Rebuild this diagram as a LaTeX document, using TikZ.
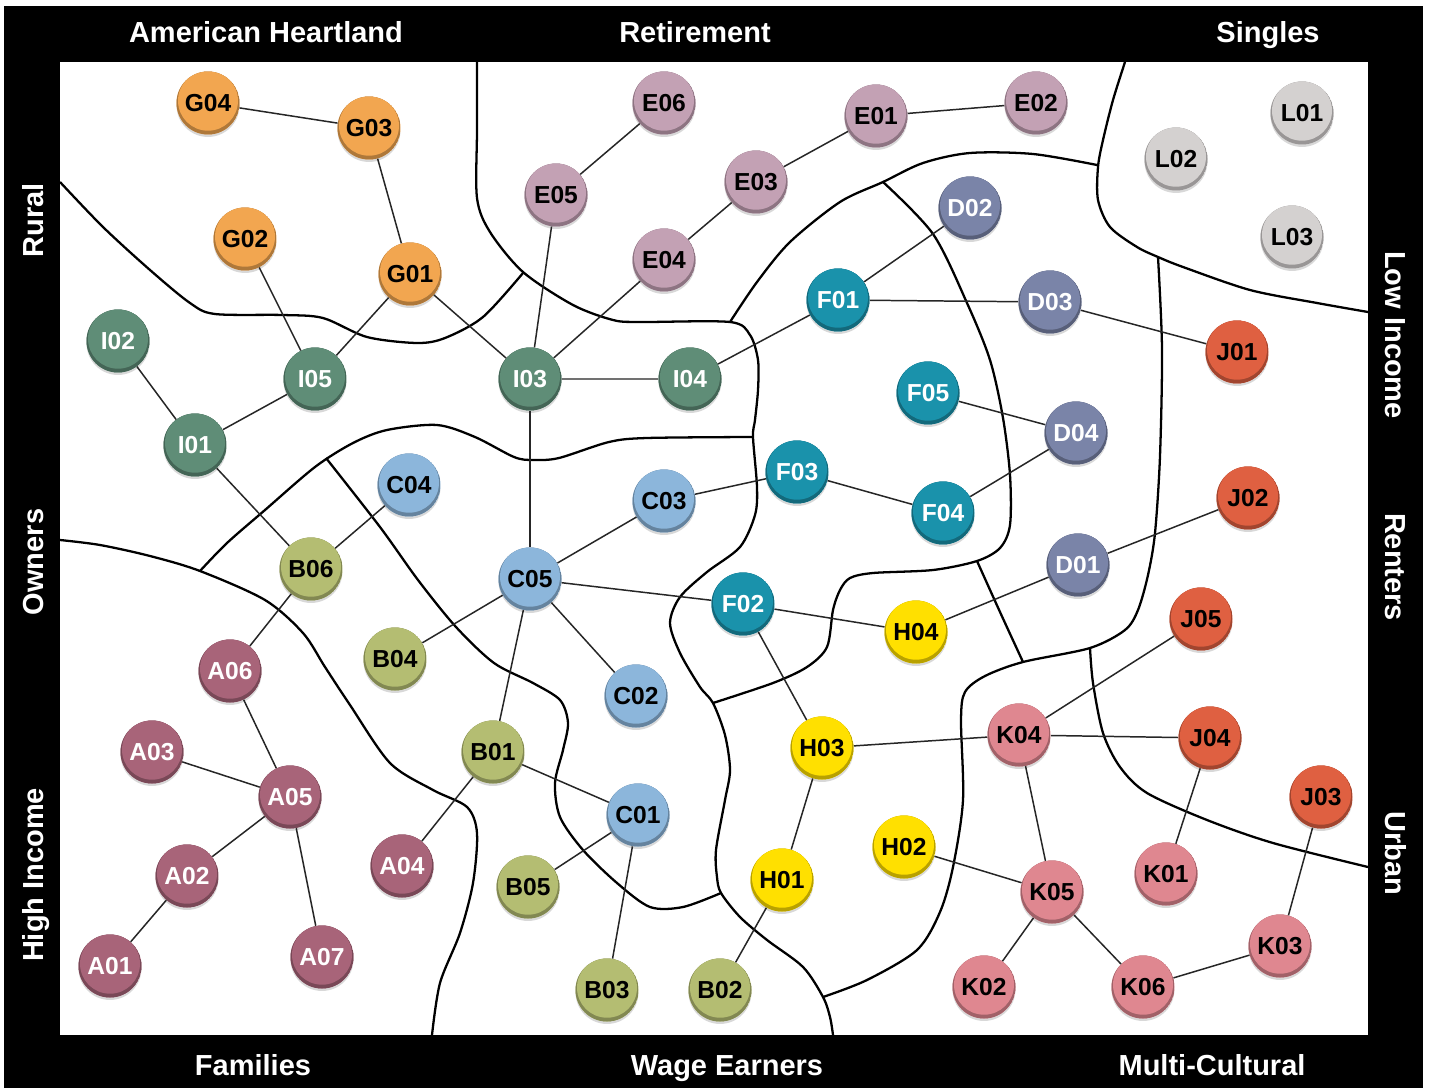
\documentclass[tikz,border=0pt]{standalone}
\usepackage{fontspec}
\setmainfont{Liberation Sans}
\usepackage{xcolor}
\usepackage{tikz}
\usetikzlibrary{
	shadows		% per l'ombra sotto i cerchi
}

% colori dei gruppi
\definecolor{segA}{HTML}{A86479}
\definecolor{segB}{HTML}{B4BD72}
\definecolor{segC}{HTML}{8CB6DB}
\definecolor{segD}{HTML}{7A84A8}
\definecolor{segE}{HTML}{C3A1B4}
\definecolor{segF}{HTML}{1A92AB}
\definecolor{segG}{HTML}{F2A650}
\definecolor{segH}{HTML}{FFE000}
\definecolor{segI}{HTML}{5F8D77}
\definecolor{segJ}{HTML}{DF6041}
\definecolor{segK}{HTML}{DF8790}
\definecolor{segL}{HTML}{D4D1D0}

\begin{document}
\begin{tikzpicture}[
	x=0.02cm, y=-0.02cm,
	seg/.style={circle, minimum size=1.26cm, inner sep=0pt, fill=#1, text=black,
		font=\fontsize{14}{14}\selectfont\bfseries,
		path picture={
			\fill[#1!72!black] (path picture bounding box.center) circle (0.63cm);
			\fill[#1] ([yshift=1.3pt]path picture bounding box.center) circle (0.6cm);
		},
		drop shadow={shadow xshift=0pt, shadow yshift=-1.4pt, opacity=0.3}},
	seg_light/.style={seg=#1, text=white},
	link/.style={line width=0.85pt, color=black!85},
	border_line/.style={line width=1.3pt, black, line join=round},
	side_label/.style={text=white, font=\fontsize{16.5}{18}\selectfont\bfseries, anchor=base}
	]
	
	% --- Cornice ---
	\fill[white] (0,0) rectangle (1430,1088);
	\fill[black] (4,6) rectangle (1423,1088);
	\fill[white] (60,62) rectangle (1368,1035);
	
	% --- Etichette ai bordi ---
	\node[side_label] (heartland) at (266,43) {American Heartland};
	\node[side_label] (retirement) at (695,43) {Retirement};
	\node[side_label] (singles) at (1268,43) {Singles};
	\node[side_label] (families) at (253,1075) {Families};
	\node[side_label] (wage) at (727,1075) {Wage Earners};
	\node[side_label] (multi) at (1212,1075) {Multi-Cultural};
	\node[side_label, rotate=90] (rural) at (43,220) {Rural};
	\node[side_label, rotate=90] (owners) at (43,562) {Owners};
	\node[side_label, rotate=90] (high) at (43,875) {High Income};
	\node[side_label, rotate=-90] (low) at (1385,335) {Low Income};
	\node[side_label, rotate=-90] (renters) at (1385,567) {Renters};
	\node[side_label, rotate=-90] (urban) at (1385,853) {Urban};
	
	% ==================================================================
	% --- Confini delle zone ---
	% ==================================================================
	\draw[border_line] plot[smooth, tension=0.5] coordinates {(60,182) (103,227) (150,270) (190,303) (215,314) (283,315) (323,318) (367,337) (417,343) (445,338) (483,317) (523,273)};
	\draw[border_line] plot[smooth, tension=0.5] coordinates {(477,62) (477,130) (477,198) (490,232) (523,272) (573,305) (613,320) (640,322) (730,322) (750,335) (758,360) (758,390) (755,420) (753,437) (757,487) (755,515) (740,547) (707,572) (680,597) (670,623) (680,653) (700,687) (713,703) (725,735) (730,770) (725,800) (716,850) (717,877) (721,893) (740,917) (767,940) (803,967) (823,997) (830,1017) (833,1035)};
	\draw[border_line] plot[smooth, tension=0.5] coordinates {(730,322) (757,282) (790,242) (840,202) (883,182) (923,163) (970,153) (1033,154) (1097,165)};
	\draw[border_line] plot[smooth, tension=0.5] coordinates {(1125,62) (1113,100) (1103,140) (1098,167) (1098,200) (1110,227) (1137,247) (1158,257) (1183,267) (1250,290) (1317,303) (1368,312)};
	\draw[border_line] plot[smooth, tension=0.5] coordinates {(1158,257) (1162,349) (1160,456) (1155,533) (1148,575) (1138,610) (1125,630) (1090,648) (1023,662) (985,676) (965,692) (961,720) (963,800) (953,867) (940,912) (917,950) (867,980) (823,997)};
	\draw[border_line] plot[smooth, tension=0.5] coordinates {(883,182) (933,234) (967,303) (990,360) (1003,418) (1010,475) (1010,525) (1000,548) (977,561) (933,570) (873,573) (850,578) (840,590) (833,610) (827,647) (807,667) (773,683) (713,703)};
	\draw[border_line] plot[smooth, tension=0.5] coordinates {(977,561) (1000,612) (1023,662)};
	\draw[border_line] plot[smooth, tension=0.5] coordinates {(1090,648) (1093,683) (1103,733) (1120,767) (1147,793) (1207,820) (1273,843) (1368,867)};
	\draw[border_line] plot[smooth, tension=0.5] coordinates {(200,571) (227,543) (265,510) (315,467) (353,443) (387,430) (437,425) (475,437) (514,457) (533,460) (559,458) (609,442) (647,438) (753,437)};
	\draw[border_line] plot[smooth, tension=0.5] coordinates {(60,540) (100,545) (150,556) (200,571) (265,600) (303,633) (325,667) (350,705) (390,763) (433,790) (467,807) (477,833) (473,883) (460,933) (440,983) (432,1035)};
	\draw[border_line] plot[smooth, tension=0.5] coordinates {(326,458) (380,527) (418,580) (456,627) (494,663) (533,683) (560,700) (568,723) (563,750) (555,783) (560,817) (583,850) (617,883) (650,907) (683,907) (721,893)};
	
	% ==================================================================
	% --- Segmenti ---
	% ==================================================================
	
	% --- G ---
	\node[seg=segG] (G01) at (410,274) {G01};
	\node[seg=segG] (G02) at (245,239) {G02};
	\node[seg=segG] (G03) at (369,128) {G03};
	\node[seg=segG] (G04) at (208,103) {G04};
	
	% --- I ---
	\node[seg_light=segI] (I01) at (195,445) {I01};
	\node[seg_light=segI] (I02) at (118,341) {I02};
	\node[seg_light=segI] (I03) at (530,379) {I03};
	\node[seg_light=segI] (I04) at (690,379) {I04};
	\node[seg_light=segI] (I05) at (315,379) {I05};
	
	% --- E ---
	\node[seg=segE] (E01) at (876,116) {E01};
	\node[seg=segE] (E02) at (1036,103) {E02};
	\node[seg=segE] (E03) at (756,182) {E03};
	\node[seg=segE] (E04) at (664,260) {E04};
	\node[seg=segE] (E05) at (556,195) {E05};
	\node[seg=segE] (E06) at (664,103) {E06};
	
	% --- L ---
	\node[seg=segL] (L01) at (1302,113) {L01};
	\node[seg=segL] (L02) at (1176,159) {L02};
	\node[seg=segL] (L03) at (1292,237) {L03};
	
	% --- D ---
	\node[seg_light=segD] (D01) at (1078,565) {D01};
	\node[seg_light=segD] (D02) at (970,208) {D02};
	\node[seg_light=segD] (D03) at (1050,302) {D03};
	\node[seg_light=segD] (D04) at (1076,433) {D04};
	
	% --- F ---
	\node[seg_light=segF] (F01) at (838,300) {F01};
	\node[seg_light=segF] (F02) at (743,604) {F02};
	\node[seg_light=segF] (F03) at (797,472) {F03};
	\node[seg_light=segF] (F04) at (943,513) {F04};
	\node[seg_light=segF] (F05) at (928,393) {F05};
	
	% --- J ---
	\node[seg=segJ] (J01) at (1237,352) {J01};
	\node[seg=segJ] (J02) at (1248,498) {J02};
	\node[seg=segJ] (J03) at (1321,797) {J03};
	\node[seg=segJ] (J04) at (1210,738) {J04};
	\node[seg=segJ] (J05) at (1201,619) {J05};
	
	% --- C ---
	\node[seg=segC] (C01) at (638,815) {C01};
	\node[seg=segC] (C02) at (636,696) {C02};
	\node[seg=segC] (C03) at (664,501) {C03};
	\node[seg=segC] (C04) at (409,485) {C04};
	\node[seg=segC] (C05) at (530,579) {C05};
	
	% --- B ---
	\node[seg=segB] (B01) at (493,752) {B01};
	\node[seg=segB] (B02) at (720,990) {B02};
	\node[seg=segB] (B03) at (607,990) {B03};
	\node[seg=segB] (B04) at (395,659) {B04};
	\node[seg=segB] (B05) at (528,887) {B05};
	\node[seg=segB] (B06) at (311,569) {B06};
	
	% --- A ---
	\node[seg_light=segA] (A01) at (110,966) {A01};
	\node[seg_light=segA] (A02) at (187,876) {A02};
	\node[seg_light=segA] (A03) at (152,752) {A03};
	\node[seg_light=segA] (A04) at (402,866) {A04};
	\node[seg_light=segA] (A05) at (290,797) {A05};
	\node[seg_light=segA] (A06) at (230,671) {A06};
	\node[seg_light=segA] (A07) at (322,957) {A07};
	
	% --- H ---
	\node[seg=segH] (H01) at (782,880) {H01};
	\node[seg=segH] (H02) at (904,847) {H02};
	\node[seg=segH] (H03) at (822,748) {H03};
	\node[seg=segH] (H04) at (916,632) {H04};
	
	% --- K ---
	\node[seg=segK] (K01) at (1166,874) {K01};
	\node[seg=segK] (K02) at (984,987) {K02};
	\node[seg=segK] (K03) at (1280,946) {K03};
	\node[seg=segK] (K04) at (1019,735) {K04};
	\node[seg=segK] (K05) at (1052,892) {K05};
	\node[seg=segK] (K06) at (1143,987) {K06};
	
	% ==================================================================
	% --- Collegamenti ---
	% ==================================================================
	\draw[link] (G04) -- (G03) -- (G01) -- (I05);
	\draw[link] (G02) -- (I05) -- (I01) -- (I02);
	\draw[link] (G01) -- (I03) -- (I04) -- (F01);
	\draw[link] (I01) -- (B06) -- (C04);
	\draw[link] (I03) -- (E05) -- (E06);
	\draw[link] (I03) -- (E04) -- (E03) -- (E01) -- (E02);
	\draw[link] (I03) -- (C05);
	\draw[link] (F01) -- (D02);
	\draw[link] (F01) -- (D03) -- (J01);
	\draw[link] (F05) -- (D04) -- (F04) -- (F03) -- (C03) -- (C05);
	\draw[link] (C05) -- (F02) -- (H04) -- (D01) -- (J02);
	\draw[link] (C05) -- (B04);
	\draw[link] (C05) -- (C02);
	\draw[link] (C05) -- (B01) -- (A04);
	\draw[link] (B01) -- (C01) -- (B05);
	\draw[link] (C01) -- (B03);
	\draw[link] (B06) -- (A06) -- (A05) -- (A03);
	\draw[link] (A05) -- (A02) -- (A01);
	\draw[link] (A05) -- (A07);
	\draw[link] (F02) -- (H03) -- (H01) -- (B02);
	\draw[link] (H03) -- (K04) -- (J05);
	\draw[link] (K04) -- (J04) -- (K01);
	\draw[link] (K04) -- (K05) -- (K02);
	\draw[link] (H02) -- (K05) -- (K06) -- (K03) -- (J03);
	
\end{tikzpicture}
\end{document}
